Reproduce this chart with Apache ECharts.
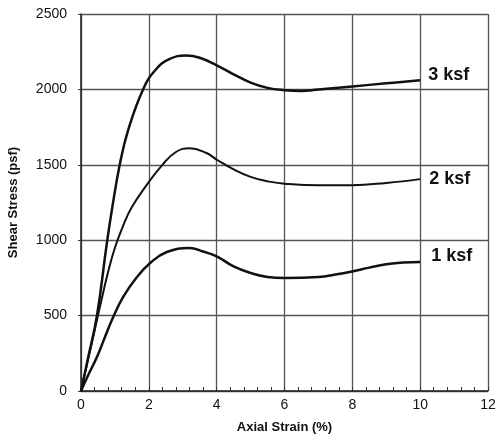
<!DOCTYPE html>
<html>
<head>
<meta charset="utf-8">
<script src="https://cdn.jsdelivr.net/npm/echarts@6/dist/echarts.min.js"></script>
<style>
  html, body { margin: 0; padding: 0; background: #fff; }
  #chart { width: 498px; height: 439px; }
</style>
</head>
<body>
<div id="chart"></div>
<script>
// axial strain (%) / shear stress (psf)
const strain3 = [0, 0.18, 0.47, 0.75, 0.91, 1.15, 1.39, 1.83, 2.2, 2.6, 3.1, 3.5, 4, 4.5, 5, 5.5, 6, 6.5, 7, 8, 9, 10]
const stress3 = [0, 190, 500, 960, 1200, 1510, 1730, 2000, 2130, 2200, 2225, 2210, 2160, 2100, 2045, 2010, 1995, 1990, 2000, 2020, 2040, 2060]

const strain2 = [0, 0.2, 0.4, 0.6, 0.8, 1.0, 1.25, 1.5, 1.95, 2.4, 2.8, 3.2, 3.7, 4, 4.5, 5, 5.5, 6, 7, 8, 9, 10]
const stress2 = [0, 200, 400, 600, 790, 950, 1100, 1220, 1370, 1500, 1585, 1610, 1578, 1535, 1470, 1420, 1390, 1375, 1365, 1365, 1380, 1405]

const strain1 = [0, 0.2, 0.47, 0.71, 0.95, 1.24, 1.65, 2.04, 2.53, 3.2, 3.6, 4, 4.5, 5, 5.5, 6, 7, 7.5, 8, 8.5, 9, 9.5, 10]
const stress1 = [0, 100, 225, 360, 490, 623, 756, 849, 922, 948, 925, 893, 826, 783, 756, 749, 756, 772, 793, 818, 840, 852, 855]

const seriesNames = ['3 ksf', '2 ksf', '1 ksf']

const gridColor = '#555'
const font = 'Liberation Sans, Arial, sans-serif'

const chart = echarts.init(document.getElementById('chart'))

function pairs(xs, ys) {
  return xs.map((x, i) => [x, ys[i]])
}

function lineSeries(name, xs, ys, width, labelOffset) {
  return {
    name: name,
    type: 'line',
    data: pairs(xs, ys),
    smooth: 0.45,
    showSymbol: false,
    lineStyle: { color: '#111', width: width },
    endLabel: {
      show: true,
      formatter: '{a}',
      offset: labelOffset,
      color: '#111',
      fontSize: 18,
      fontWeight: 'bold',
      fontFamily: font
    },
    animation: false
  }
}

chart.setOption({
  animation: false,
  grid: { left: 81, right: 10, top: 14, bottom: 48, outerBoundsMode: 'none' },
  xAxis: {
    type: 'value',
    min: 0,
    max: 12,
    interval: 2,
    name: 'Axial Strain (%)',
    nameLocation: 'middle',
    nameGap: 30,
    nameTextStyle: { fontFamily: font, fontSize: 13, fontWeight: 'bold', color: '#111' },
    axisLine: { onZero: false, lineStyle: { color: '#222', width: 1.5 } },
    axisTick: { show: true, inside: true, length: 4, lineStyle: { color: '#333' } },
    minorTick: { show: true, splitNumber: 5, length: 4, lineStyle: { color: '#333' } },
    axisLabel: { fontFamily: font, fontSize: 14, color: '#111', margin: 7 },
    splitLine: { show: true, lineStyle: { color: gridColor, width: 1.3 } }
  },
  yAxis: {
    type: 'value',
    min: 0,
    max: 2500,
    interval: 500,
    name: 'Shear Stress (psf)',
    nameLocation: 'middle',
    nameGap: 61,
    nameTextStyle: { fontFamily: font, fontSize: 13, fontWeight: 'bold', color: '#111' },
    axisLine: { show: true, lineStyle: { color: '#222', width: 1.5 } },
    axisTick: { show: true, length: 3, lineStyle: { color: '#333' } },
    axisLabel: { fontFamily: font, fontSize: 14, color: '#111', margin: 14, formatter: (v) => String(v) },
    splitLine: { show: true, lineStyle: { color: gridColor, width: 1.3 } }
  },
  series: [
    lineSeries(seriesNames[0], strain3, stress3, 2.5, [0, -5]),
    lineSeries(seriesNames[1], strain2, stress2, 2, [1, 0]),
    lineSeries(seriesNames[2], strain1, stress1, 2.5, [3, -6])
  ]
})
</script>
</body>
</html>
